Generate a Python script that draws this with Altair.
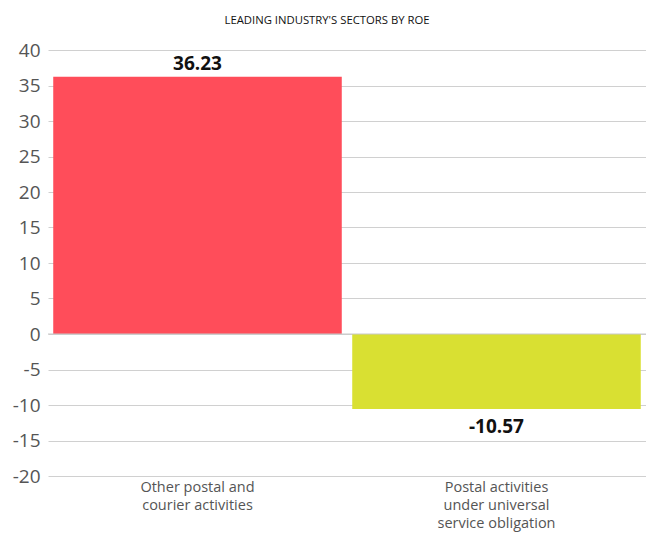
import altair as alt
import pandas as pd

categories = ["Other postal and|courier activities",
              "Postal activities|under universal|service obligation"]
values = [36.23, -10.57]
colors = ["#FF4D5A", "#D9E032"]
labels = ["36.23", "-10.57"]
y_ticks = [-20, -15, -10, -5, 0, 5, 10, 15, 20, 25, 30, 35, 40]

df = pd.DataFrame({"cat": categories, "val": values, "color": colors, "lab": labels})

FONT = "Open Sans"
yscale = alt.Scale(domain=[-20, 40], nice=False)
xscale = alt.Scale(paddingInner=0.035, paddingOuter=0.0175)

x = alt.X("cat:N", sort=categories, title=None, scale=xscale,
          axis=alt.Axis(labelExpr="split(datum.label, '|')", labelAngle=0,
                        labelFontSize=14.5, labelColor="#555555", labelFont=FONT,
                        labelLineHeight=18, labelPadding=4, ticks=False, domain=False,
                        labelBaseline="top"))
y = alt.Y("val:Q", title=None, scale=yscale,
          axis=alt.Axis(values=y_ticks, labelFontSize=19, labelColor="#555555",
                        labelFont=FONT, labelPadding=8, ticks=False, domain=False,
                        labelExpr="datum.value < 0 ? '-' + abs(datum.value) : '' + datum.value",
                        labelOverlap=False, gridColor="#d0d0d0", gridWidth=1))

base = alt.Chart(df)

bars = base.mark_bar().encode(x=x, y=y, color=alt.Color("color:N", scale=None))

zero = alt.Chart(pd.DataFrame({"val": [0]})).mark_rule(color="#c8c8c8", strokeWidth=1).encode(y=y)

pos_text = base.transform_filter("datum.val >= 0").mark_text(
    baseline="bottom", dy=-3, fontSize=19, fontWeight="bold", font=FONT, color="#111111"
).encode(x=x, y=y, text="lab:N")

neg_text = base.transform_filter("datum.val < 0").mark_text(
    baseline="top", dy=9, fontSize=19, fontWeight="bold", font=FONT, color="#111111"
).encode(x=x, y=y, text="lab:N")

chart = alt.layer(bars, zero, pos_text, neg_text).properties(
    width=598, height=426,
    autosize=alt.AutoSizeParams(type="none"),
    padding={"left": 40, "top": 42, "right": 0, "bottom": 58},
    title=alt.TitleParams("LEADING INDUSTRY'S SECTORS BY ROE", fontSize=11.3,
                          font=FONT, fontWeight="normal", color="#111111",
                          anchor="middle", frame="group", offset=15, dx=-20),
).configure_view(stroke=None)

chart.save("out.html", embed_options={"renderer": "svg", "actions": False})
